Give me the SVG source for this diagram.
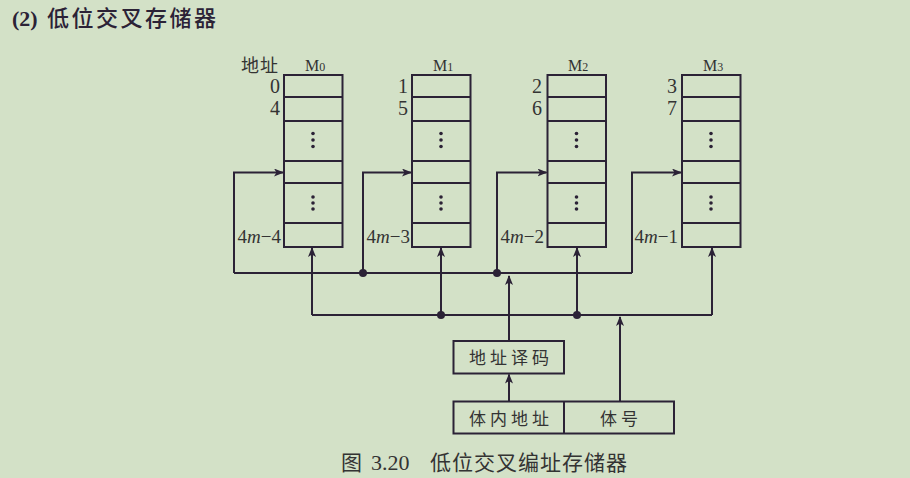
<svg xmlns="http://www.w3.org/2000/svg" width="910" height="478" viewBox="0 0 910 478">
<defs>
<style>
.ln{fill:none;stroke:#2b2236;stroke-width:2}
.bx{fill:none;stroke:#2b2236;stroke-width:2}
.dv{stroke:#2b2236;stroke-width:2}
.dot{fill:#2b2236}
.sdot{fill:#2b2236}
.cjk{font-family:"Noto Sans CJK SC",sans-serif;fill:#333;}
.num{font-family:"Liberation Serif",serif;fill:#333;}
</style>
<marker id="ah" viewBox="0 0 10 8" refX="9" refY="4" markerWidth="10" markerHeight="8" markerUnits="userSpaceOnUse" orient="auto">
<path d="M0,0 L10,4 L0,8 L2.5,4 z" fill="#2b2236"/>
</marker>
<g id="cells">
<rect class="bx" x="0" y="0" width="58.5" height="172"/>
<line class="dv" x1="0" y1="22" x2="58.5" y2="22"/>
<line class="dv" x1="0" y1="46" x2="58.5" y2="46"/>
<line class="dv" x1="0" y1="86" x2="58.5" y2="86"/>
<line class="dv" x1="0" y1="108" x2="58.5" y2="108"/>
<line class="dv" x1="0" y1="148" x2="58.5" y2="148"/>
<circle class="sdot" cx="29" cy="58.5" r="1.8"/>
<circle class="sdot" cx="29" cy="65" r="1.8"/>
<circle class="sdot" cx="29" cy="71.5" r="1.8"/>
<circle class="sdot" cx="29" cy="122" r="1.8"/>
<circle class="sdot" cx="29" cy="128" r="1.8"/>
<circle class="sdot" cx="29" cy="134" r="1.8"/>
</g>
</defs>
<rect width="910" height="478" fill="#d3e1c7"/>

<g id="title">
<text x="12" y="26" font-family="Liberation Serif,serif" font-weight="bold" font-size="22" fill="#2b2236">(2)</text>
<text x="47" y="26" font-family="Noto Sans CJK SC,sans-serif" font-weight="500" font-size="22" letter-spacing="2.5" fill="#2b2236">低位交叉存储器</text>
</g>

<g id="addr-label">
<text class="cjk" x="241" y="72" font-size="18" letter-spacing="1">地址</text>
</g>

<g id="M0">
<use href="#cells" x="284" y="75"/>
<text class="num" x="305" y="71" font-size="16">M<tspan font-size="12">0</tspan></text>
<text class="num" x="280" y="93" font-size="20" text-anchor="end">0</text>
<text class="num" x="280" y="115" font-size="20" text-anchor="end">4</text>
<text class="num" x="281" y="243" font-size="19" text-anchor="end">4<tspan font-style="italic">m</tspan>−4</text>
</g>
<g id="M1">
<use href="#cells" x="412" y="75"/>
<text class="num" x="433" y="71" font-size="16">M<tspan font-size="12">1</tspan></text>
<text class="num" x="408" y="93" font-size="20" text-anchor="end">1</text>
<text class="num" x="408" y="115" font-size="20" text-anchor="end">5</text>
<text class="num" x="410" y="243" font-size="19" text-anchor="end">4<tspan font-style="italic">m</tspan>−3</text>
</g>
<g id="M2">
<use href="#cells" x="547.5" y="75"/>
<text class="num" x="568" y="71" font-size="16">M<tspan font-size="12">2</tspan></text>
<text class="num" x="542" y="93" font-size="20" text-anchor="end">2</text>
<text class="num" x="542" y="115" font-size="20" text-anchor="end">6</text>
<text class="num" x="544" y="243" font-size="19" text-anchor="end">4<tspan font-style="italic">m</tspan>−2</text>
</g>
<g id="M3">
<use href="#cells" x="682" y="75"/>
<text class="num" x="703" y="71" font-size="16">M<tspan font-size="12">3</tspan></text>
<text class="num" x="677" y="93" font-size="20" text-anchor="end">3</text>
<text class="num" x="677" y="115" font-size="20" text-anchor="end">7</text>
<text class="num" x="678" y="243" font-size="19" text-anchor="end">4<tspan font-style="italic">m</tspan>−1</text>
</g>

<g id="decoder">
<rect class="bx" x="453.5" y="341" width="110.5" height="32.5"/>
<text class="cjk" x="469" y="364" font-size="17" letter-spacing="4">地址译码</text>
</g>
<g id="address-register">
<rect class="bx" x="453.5" y="401.5" width="220.5" height="32"/>
<line class="dv" x1="564" y1="401.5" x2="564" y2="433.5"/>
<text class="cjk" x="469" y="425" font-size="17" letter-spacing="4">体内地址</text>
<text class="cjk" x="600" y="425" font-size="17" letter-spacing="4">体号</text>
</g>

<g id="connectors">
<!-- upper bus (from decoder) -->
<polyline class="ln" points="234,273 632,273"/>
<polyline class="ln" points="234,273 234,172.5 283,172.5" marker-end="url(#ah)"/>
<polyline class="ln" points="363,273 363,172.5 411,172.5" marker-end="url(#ah)"/>
<polyline class="ln" points="497,273 497,172.5 546.5,172.5" marker-end="url(#ah)"/>
<polyline class="ln" points="632,273 632,172.5 681,172.5" marker-end="url(#ah)"/>
<circle class="dot" cx="363" cy="273" r="4"/>
<circle class="dot" cx="497" cy="273" r="4"/>
<line class="ln" x1="509" y1="341" x2="509" y2="276" marker-end="url(#ah)"/>
<!-- lower bus (from bank number) -->
<polyline class="ln" points="312,315 712,315"/>
<line class="ln" x1="312" y1="315" x2="312" y2="248" marker-end="url(#ah)"/>
<line class="ln" x1="441" y1="315" x2="441" y2="248" marker-end="url(#ah)"/>
<line class="ln" x1="577" y1="315" x2="577" y2="248" marker-end="url(#ah)"/>
<line class="ln" x1="712" y1="315" x2="712" y2="248" marker-end="url(#ah)"/>
<circle class="dot" cx="441" cy="315" r="4"/>
<circle class="dot" cx="577" cy="315" r="4"/>
<line class="ln" x1="620" y1="401.5" x2="620" y2="317" marker-end="url(#ah)"/>
<line class="ln" x1="509" y1="401.5" x2="509" y2="374.5" marker-end="url(#ah)"/>
</g>

<g id="caption">
<text class="cjk" x="341" y="470" font-size="21">图</text>
<text class="num" x="371" y="470" font-size="22">3.20</text>
<text class="cjk" x="430" y="470" font-size="21" letter-spacing="1">低位交叉编址存储器</text>
</g>
</svg>
